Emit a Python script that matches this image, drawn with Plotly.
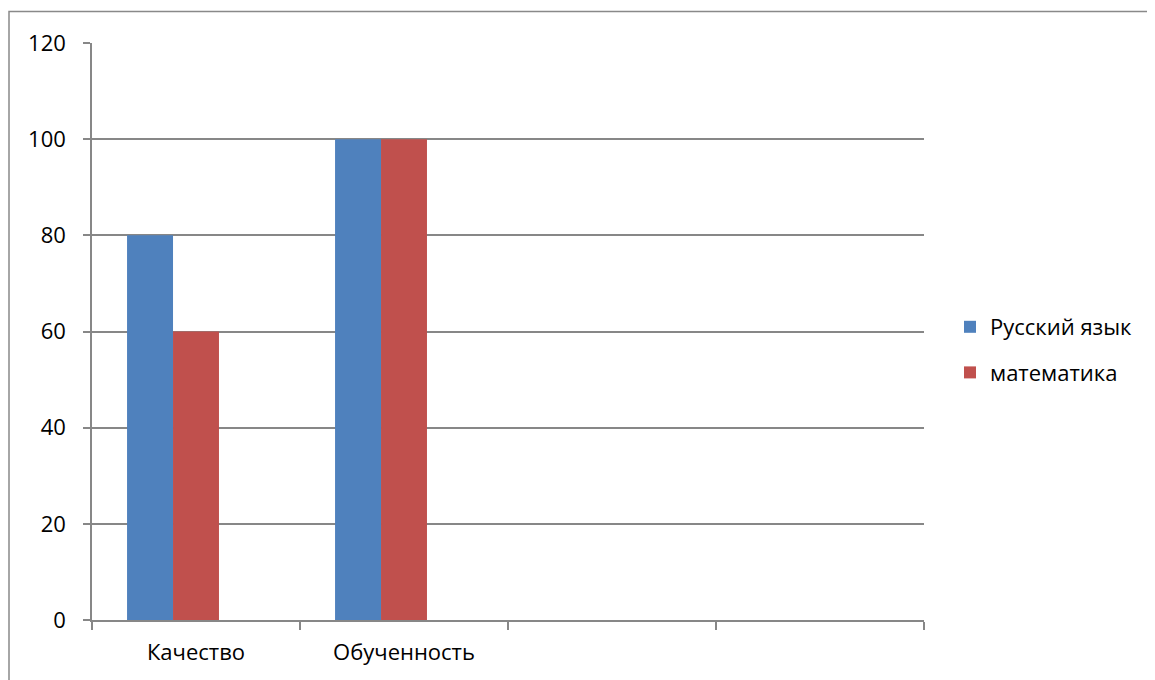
import plotly.graph_objects as go

categories = ["Качество", "Обученность", " ", "  "]
russian = [80, 100, None, None]
math_vals = [60, 100, None, None]
third = [None, None, None, None]
y_ticks = [0, 20, 40, 60, 80, 100, 120]

FONT = "Open Sans"
GRID = "#878787"

fig = go.Figure()
fig.add_trace(go.Bar(x=categories, y=russian, name="Русский язык",
                     marker=dict(color="#4F81BD", line=dict(width=0)), legendgroup="a"))
fig.add_trace(go.Bar(x=categories, y=math_vals, name="математика",
                     marker=dict(color="#C0504D", line=dict(width=0)), legendgroup="b"))
fig.add_trace(go.Bar(x=categories, y=third, name="", showlegend=False,
                     marker=dict(color="#9BBB59", line=dict(width=0))))

# page body has an 8px offset in the browser
OFF = 8
W, H = 1155 - OFF, 680 - OFF
L, R, T, B = 92 - OFF, 924 - OFF, 43 - OFF, 620 - OFF
pw, ph = R - L, B - T

def px(x):
    return (x - OFF - L) / pw

def py(y):
    return (B - (y - OFF)) / ph

fig.update_layout(
    width=W, height=H,
    margin=dict(l=L, r=W - R, t=T, b=H - B, autoexpand=False),
    paper_bgcolor="white", plot_bgcolor="white",
    barmode="group", bargap=0.337, bargroupgap=0,
    font=dict(family=FONT, size=22, color="black"),
    legend=dict(x=px(950), y=py(350), xanchor="left", yanchor="middle",
                font=dict(family=FONT, size=22, color="black"),
                tracegroupgap=14, traceorder="grouped", bgcolor="rgba(0,0,0,0)"),
    xaxis=dict(type="category", categoryorder="array", categoryarray=categories,
               showline=True, linecolor=GRID, linewidth=1.5,
               ticks="outside", tickson="boundaries", ticklen=8, tickcolor=GRID, tickwidth=1.5,
               showgrid=False, ticklabelstandoff=12, fixedrange=True),
    yaxis=dict(range=[0, 120], tickvals=y_ticks, ticktext=[str(v) for v in y_ticks],
               showline=True, linecolor=GRID, linewidth=1.5,
               ticks="outside", ticklen=7, tickcolor=GRID, tickwidth=1.5,
               showgrid=True, gridcolor=GRID, gridwidth=1.5, zeroline=False,
               ticklabelstandoff=13, fixedrange=True),
    shapes=[dict(type="rect", xref="paper", yref="paper",
                 x0=px(9), x1=px(1160), y0=py(700), y1=py(11.5),
                 line=dict(color="#898989", width=1.5), fillcolor="rgba(0,0,0,0)", layer="below")],
)

fig.write_html("out.html")
